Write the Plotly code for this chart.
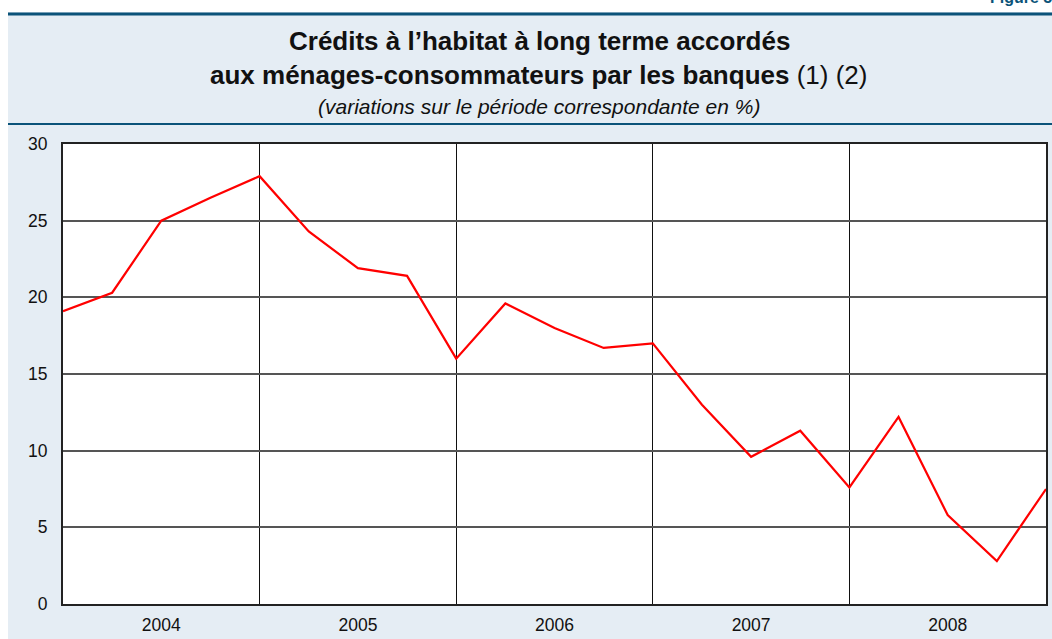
import plotly.graph_objects as go

# quarterly series, end of quarter, 2003 T4 -> 2008 T4
quarters = ["2003 T4",
            "2004 T1", "2004 T2", "2004 T3", "2004 T4",
            "2005 T1", "2005 T2", "2005 T3", "2005 T4",
            "2006 T1", "2006 T2", "2006 T3", "2006 T4",
            "2007 T1", "2007 T2", "2007 T3", "2007 T4",
            "2008 T1", "2008 T2", "2008 T3", "2008 T4"]
variation = [19.1, 20.3, 25.0, 26.5, 27.9, 24.3, 21.9, 21.4, 16.0, 19.6, 18.0,
             16.7, 17.0, 13.0, 9.6, 11.3, 7.6, 12.2, 5.8, 2.8, 7.5]
years = ["2004", "2005", "2006", "2007", "2008"]
y_ticks = [0, 5, 10, 15, 20, 25, 30]

W, H = 1052, 639
L, R, T, B = 63, 6, 144, 35
pw, ph = W - L - R, H - T - B

BG = "#E5EDF4"
NAVY = "#0B5379"
FONT = "Liberation Sans, Arial, sans-serif"


def px(x):
    return (x - L) / pw


def py(y):
    return (H - B - y) / ph


xs = list(range(len(quarters)))
year_pos = [xs[4 * i] + 2 for i in range(len(years))]
year_bounds = [xs[4 * i] for i in range(1, len(years))]

fig = go.Figure()
fig.add_trace(go.Scatter(x=xs, y=variation, mode="lines",
                         line=dict(color="#FF0000", width=2.2),
                         text=quarters, hoverinfo="text+y"))

shapes = [
    # white strip at the top and on the left
    dict(type="rect", xref="paper", yref="paper", x0=px(0), x1=px(W),
         y0=py(0), y1=py(12), fillcolor="white", line_width=0, layer="above"),
    dict(type="rect", xref="paper", yref="paper", x0=px(0), x1=px(8),
         y0=py(0), y1=py(H), fillcolor="white", line_width=0, layer="above"),
    # navy rules
    dict(type="line", xref="paper", yref="paper", x0=px(8), x1=px(W),
         y0=py(14), y1=py(14), line=dict(color=NAVY, width=3), layer="above"),
    dict(type="line", xref="paper", yref="paper", x0=px(8), x1=px(W),
         y0=py(124), y1=py(124), line=dict(color=NAVY, width=2), layer="above"),
]

annotations = [
    dict(text="Figure 5", xref="paper", yref="paper", x=px(1054), y=py(8),
         xanchor="right", yanchor="bottom", showarrow=False,
         font=dict(family=FONT, size=16, color=NAVY, weight="bold")),
    dict(text="<b>Crédits à l’habitat à long terme accordés</b>", xref="paper", yref="paper",
         x=px(539), y=py(41), xanchor="center", yanchor="middle", showarrow=False,
         font=dict(family=FONT, size=26, color="#111111")),
    dict(text="<b>aux ménages-consommateurs par les banques</b> (1) (2)", xref="paper", yref="paper",
         x=px(538), y=py(75), xanchor="center", yanchor="middle", showarrow=False,
         font=dict(family=FONT, size=26, color="#111111")),
    dict(text="<i>(variations sur le période correspondante en %)</i>", xref="paper", yref="paper",
         x=px(539), y=py(106), xanchor="center", yanchor="middle", showarrow=False,
         font=dict(family=FONT, size=21, color="#111111")),
]

fig.update_layout(
    width=W, height=H,
    margin=dict(l=L, r=R, t=T, b=B),
    paper_bgcolor=BG, plot_bgcolor="white",
    showlegend=False,
    font=dict(family=FONT, size=17.5, color="#111111"),
    shapes=shapes, annotations=annotations,
    xaxis=dict(range=[xs[0], xs[-1]], tickvals=year_pos, ticktext=years,
               showgrid=False, ticks="", ticklabelstandoff=4, automargin=False,
               minor=dict(tickvals=year_bounds, showgrid=True, gridcolor="#111111", gridwidth=1, ticks=""),
               showline=True, linecolor="#222222", linewidth=2, mirror=True,
               zeroline=False, fixedrange=True),
    yaxis=dict(range=[0, 30], tickvals=y_ticks, showgrid=True, gridcolor="#555555", gridwidth=2,
               ticks="", ticklabelstandoff=10, automargin=False,
               showline=True, linecolor="#222222", linewidth=2, mirror=True,
               zeroline=False, fixedrange=True),
)

fig.write_html("out.html", config={"displayModeBar": False},
               post_script="document.body.style.margin='0';document.body.style.overflow='hidden';")
